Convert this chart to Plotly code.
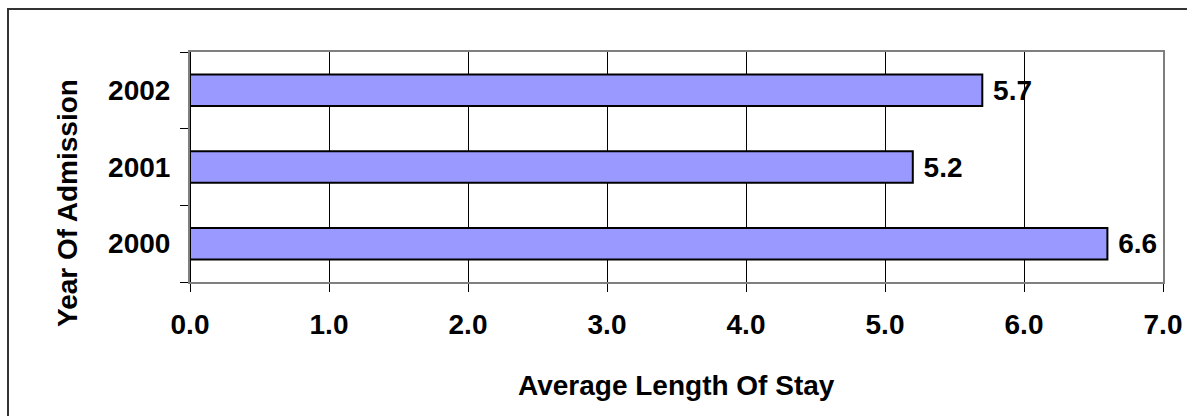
import plotly.graph_objects as go

years = ["2000", "2001", "2002"]
avg_stay = [6.6, 5.2, 5.7]
x_ticks = [0, 1, 2, 3, 4, 5, 6, 7]
x_tick_text = ["0.0", "1.0", "2.0", "3.0", "4.0", "5.0", "6.0", "7.0"]

W, H = 1187, 416
ML, MR, MT, MB = 190, 24, 52, 134
FONT = "Liberation Sans"

fig = go.Figure(go.Bar(
    y=years, x=avg_stay, orientation="h",
    marker=dict(color="#9999FF", line=dict(color="black", width=2)),
    texttemplate=" %{x:.1f}", textposition="outside", cliponaxis=False,
    textfont=dict(family=FONT, size=28, color="black", weight="bold"),
    width=0.41,
))

pw = W - ML - MR
ph = H - MT - MB
def px(x): return (x - ML) / pw
def py(y): return (H - MB - y) / ph

fig.update_layout(
    template="none",
    width=W, height=H,
    margin=dict(l=ML, r=MR, t=MT, b=MB, autoexpand=False),
    paper_bgcolor="white", plot_bgcolor="white",
    font=dict(family=FONT, color="black"),
    showlegend=False,
    xaxis=dict(
        automargin=False,
        range=[0, 7], tickvals=x_ticks, ticktext=x_tick_text,
        showgrid=True, gridcolor="black", gridwidth=1,
        zeroline=True, zerolinecolor="black", zerolinewidth=1.5,
        showline=True, linecolor="#7f7f7f", linewidth=2, mirror=True,
        ticks="outside", ticklen=8, tickcolor="black", tickwidth=1,
        ticklabelstandoff=8,
        tickfont=dict(size=28, weight="bold"),
    ),
    yaxis=dict(
        automargin=False,
        type="category", categoryorder="array", categoryarray=years,
        showline=True, linecolor="#7f7f7f", linewidth=2, mirror=True,
        showgrid=False, zeroline=False,
        ticks="outside", ticklen=8, tickcolor="black", tickwidth=1,
        tickson="boundaries",
        ticklabelstandoff=12,
        tickfont=dict(size=28, weight="bold"),
    ),
    annotations=[
        dict(text="Average Length Of Stay", x=px(676), y=py(385), xref="paper", yref="paper",
             showarrow=False, font=dict(size=28, weight="bold"), xanchor="center", yanchor="middle"),
        dict(text="Year Of Admission", textangle=-90, x=px(67), y=py(203),
             xref="paper", yref="paper", xanchor="center", yanchor="middle",
             showarrow=False, font=dict(size=28, weight="bold")),
    ],
    shapes=[dict(type="rect", xref="paper", yref="paper",
                 x0=px(8), x1=px(1220), y0=py(440), y1=py(9),
                 line=dict(color="#333333", width=2), layer="below")],
)

fig.write_html("out.html", config={"displayModeBar": False},
               post_script="document.body.style.margin='0px';")
